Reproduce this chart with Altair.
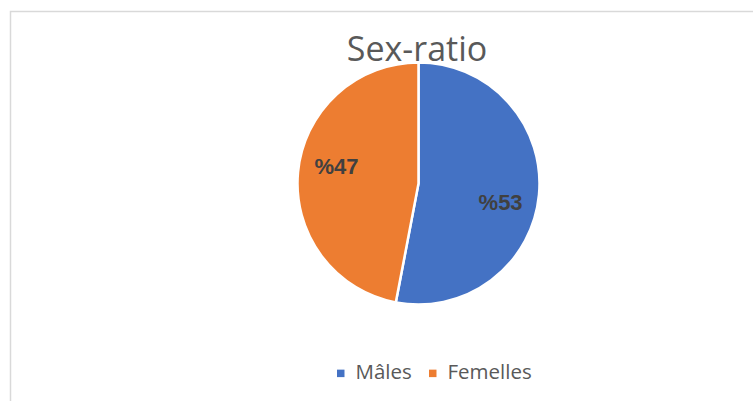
import altair as alt
import pandas as pd

title_text = "Sex-ratio"
categories = ["Mâles", "Femelles"]
values = [53, 47]
labels = ["%53", "%47"]
order = [1, 2]
colors = ["#4472C4", "#ED7D31"]

df = pd.DataFrame({"cat": categories, "value": values, "label": labels, "ord": order})

CX, CY, R = 418.5, 183.5, 121

base = alt.Chart(df).encode(
    theta=alt.Theta("value:Q", stack=True),
    order=alt.Order("ord:Q"),
)

pie = base.mark_arc(radius=R, stroke="white", strokeWidth=2.5).encode(
    x=alt.value(CX), y=alt.value(CY),
    color=alt.Color(
        "cat:N",
        scale=alt.Scale(domain=categories, range=colors),
        sort=categories,
        legend=alt.Legend(
            orient="none", legendX=330.5, legendY=363, direction="horizontal",
            title=None, symbolType="square", symbolSize=56, symbolStrokeWidth=0,
            labelFont="Open Sans", labelFontSize=20.5, labelColor="#595959",
            labelOffset=4.5, columnPadding=10, padding=0,
        ),
    ),
)

text = base.mark_text(
    radius=84, thetaOffset=0.12, font="Liberation Sans", fontWeight="bold",
    fontSize=22, color="#404040", align="center", baseline="middle",
).encode(x=alt.value(CX), y=alt.value(CY + 1.5), text="label:N")

title = alt.Chart(pd.DataFrame({"t": [title_text]})).mark_text(
    font="Open Sans", fontSize=34, color="#595959", align="center",
    baseline="alphabetic",
).encode(x=alt.value(417), y=alt.value(61), text="t:N")

border = alt.Chart(pd.DataFrame({"t": [0]})).mark_rect(
    fill=None, stroke="#d9d9d9", strokeWidth=1.5,
).encode(x=alt.value(10.5), y=alt.value(11.5), x2=alt.value(900), y2=alt.value(600))

chart = alt.layer(border, pie, text, title).properties(
    width=753, height=401, padding=0, autosize=alt.AutoSizeParams(type="none"),
    background="white",
).configure_view(stroke=None)

chart.save("out.html", embed_options={"renderer": "svg", "actions": False})
